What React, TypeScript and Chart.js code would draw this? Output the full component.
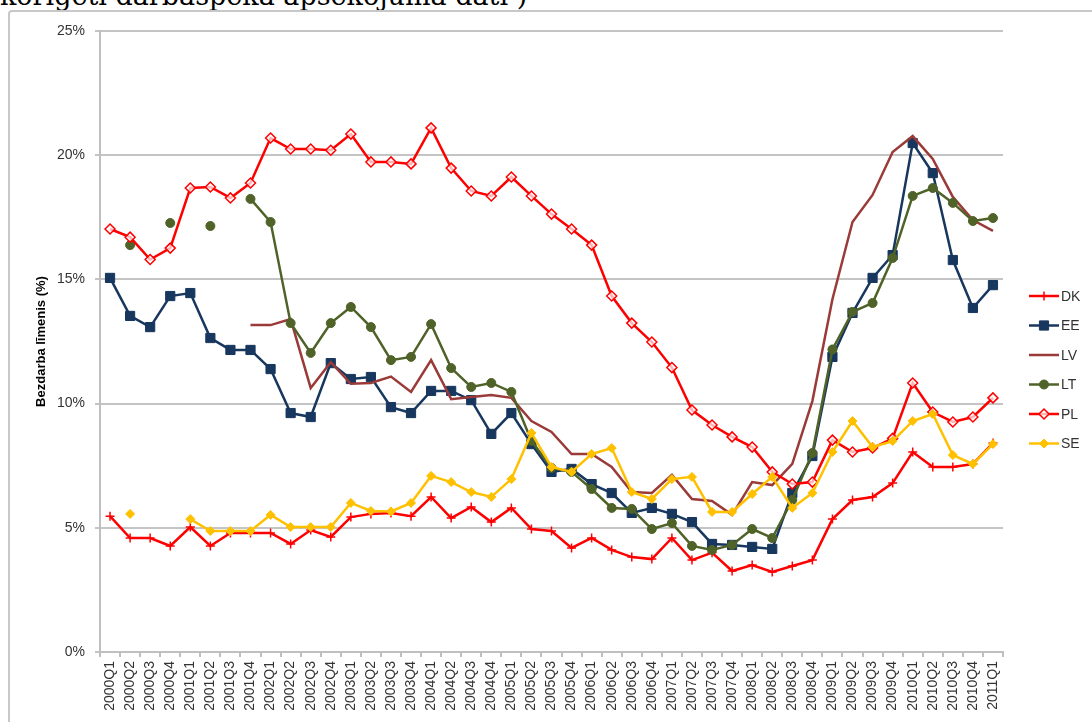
import React, { useEffect, useRef } from "react";
import { Chart, registerables } from "chart.js";

Chart.register(...registerables);

const quarters: string[] = [];
for (let y = 2000; y <= 2011; y++) {
  for (let q = 1; q <= 4; q++) {
    if (y === 2011 && q > 1) break;
    quarters.push(`${y}Q${q}`);
  }
}

const yTicks = [0, 5, 10, 15, 20, 25];

const DK = [5.47, 4.59, 4.59, 4.27, 5.03, 4.27, 4.79, 4.79, 4.79, 4.35, 4.91, 4.63, 5.43, 5.56, 5.6, 5.47, 6.24, 5.39, 5.84, 5.23, 5.8, 4.95, 4.87, 4.19, 4.59, 4.11, 3.82, 3.74, 4.59, 3.7, 4.0, 3.26, 3.5, 3.22, 3.46, 3.7, 5.35, 6.12, 6.24, 6.8, 8.05, 7.45, 7.45, 7.57, 8.41];
const EE = [15.06, 13.53, 13.08, 14.33, 14.45, 12.64, 12.16, 12.16, 11.39, 9.62, 9.46, 11.63, 10.99, 11.07, 9.86, 9.62, 10.51, 10.51, 10.14, 8.78, 9.62, 8.37, 7.25, 7.37, 6.76, 6.4, 5.6, 5.8, 5.56, 5.23, 4.35, 4.31, 4.23, 4.15, 6.4, 7.89, 11.88, 13.65, 15.06, 15.98, 20.49, 19.28, 15.78, 13.85, 14.77];
const LV = [null, null, null, null, null, null, null, 13.16, 13.16, 13.4, 10.63, 11.67, 10.8, 10.83, 11.09, 10.47, 11.75, 10.18, 10.27, 10.35, 10.23, 9.3, 8.86, 7.97, 7.97, 7.45, 6.44, 6.4, 7.13, 6.16, 6.08, 5.52, 6.84, 6.72, 7.57, 10.1, 14.2, 17.31, 18.4, 20.13, 20.77, 19.85, 18.32, 17.39, 16.95];
const LT = [null, 16.38, null, 17.27, null, 17.15, null, 18.24, 17.31, 13.24, 12.04, 13.24, 13.89, 13.08, 11.75, 11.88, 13.2, 11.43, 10.67, 10.83, 10.47, 8.5, 7.41, 7.25, 6.56, 5.8, 5.76, 4.95, 5.19, 4.27, 4.11, 4.31, 4.95, 4.59, 6.12, 8.01, 12.18, 13.69, 14.05, 15.86, 18.36, 18.68, 18.08, 17.35, 17.47];
const PL = [17.03, 16.7, 15.8, 16.26, 18.68, 18.72, 18.28, 18.88, 20.69, 20.25, 20.25, 20.2, 20.85, 19.73, 19.73, 19.65, 21.1, 19.48, 18.56, 18.36, 19.12, 18.36, 17.63, 17.03, 16.38, 14.33, 13.24, 12.48, 11.45, 9.74, 9.14, 8.66, 8.25, 7.25, 6.76, 6.84, 8.53, 8.05, 8.21, 8.6, 10.83, 9.66, 9.26, 9.46, 10.23];
const SE = [null, 5.56, null, null, 5.35, 4.87, 4.87, 4.87, 5.52, 5.03, 5.03, 5.03, 6.0, 5.68, 5.66, 6.0, 7.09, 6.84, 6.44, 6.24, 6.96, 8.82, 7.45, 7.25, 7.97, 8.21, 6.44, 6.16, 6.96, 7.05, 5.64, 5.64, 6.36, 7.05, 5.8, 6.4, 8.05, 9.3, 8.25, 8.49, 9.3, 9.58, 7.93, 7.57, 8.37];

type S = {
  label: string;
  data: (number | null)[];
  color: string;
  style: string | false;
  radius: number;
  fill: string;
  bw: number;
};

const seriesList: S[] = [
  { label: "DK", data: DK, color: "#ff0000", style: "cross", radius: 4.5, fill: "#ff4040", bw: 1.5 },
  { label: "EE", data: EE, color: "#17375e", style: "rect", radius: 6.5, fill: "#17375e", bw: 1 },
  { label: "LV", data: LV, color: "#9a3b39", style: false, radius: 0, fill: "#9a3b39", bw: 1 },
  { label: "LT", data: LT, color: "#4f6228", style: "circle", radius: 4.5, fill: "#4f6228", bw: 1 },
  { label: "PL", data: PL, color: "#ff0000", style: "rectRot", radius: 5, fill: "rgba(255,255,255,0.7)", bw: 1.5 },
  { label: "SE", data: SE, color: "#ffc000", style: "rectRot", radius: 4.5, fill: "#ffc000", bw: 1 },
];

function drawMarker(ctx: CanvasRenderingContext2D, s: S, x: number, y: number) {
  if (!s.style) return;
  const r = s.radius;
  ctx.save();
  ctx.fillStyle = s.fill;
  ctx.strokeStyle = s.color;
  ctx.lineWidth = s.bw;
  ctx.beginPath();
  if (s.style === "cross") {
    ctx.moveTo(x - r, y);
    ctx.lineTo(x + r, y);
    ctx.moveTo(x, y - r);
    ctx.lineTo(x, y + r);
    ctx.stroke();
  } else if (s.style === "rect") {
    const h = r * Math.SQRT1_2;
    ctx.rect(x - h, y - h, 2 * h, 2 * h);
    ctx.fill();
    ctx.stroke();
  } else if (s.style === "circle") {
    ctx.arc(x, y, r, 0, Math.PI * 2);
    ctx.fill();
    ctx.stroke();
  } else if (s.style === "rectRot") {
    ctx.moveTo(x, y - r);
    ctx.lineTo(x + r, y);
    ctx.lineTo(x, y + r);
    ctx.lineTo(x - r, y);
    ctx.closePath();
    ctx.fill();
    ctx.stroke();
  }
  ctx.restore();
}

const legendPlugin = {
  id: "excelLegend",
  afterDraw(chart: any) {
    const ctx: CanvasRenderingContext2D = chart.ctx;
    const x0 = 1029;
    const x1 = 1059;
    const y0 = 296;
    const dy = 29.5;
    seriesList.forEach((s, i) => {
      const y = y0 + i * dy;
      ctx.save();
      ctx.strokeStyle = s.color;
      ctx.lineWidth = 2.5;
      ctx.beginPath();
      ctx.moveTo(x0, y);
      ctx.lineTo(x1, y);
      ctx.stroke();
      ctx.restore();
      drawMarker(ctx, s, (x0 + x1) / 2, y);
      ctx.save();
      ctx.fillStyle = "#333333";
      ctx.font = "14px 'Liberation Sans', Arial, sans-serif";
      ctx.textBaseline = "middle";
      ctx.textAlign = "left";
      ctx.fillText(s.label, x1 + 2, y + 1);
      ctx.restore();
    });
  },
};

export default function App() {
  const ref = useRef<HTMLCanvasElement | null>(null);

  useEffect(() => {
    if (!ref.current) return;
    const order = [5, 4, 3, 2, 1, 0];
    const chart = new Chart(ref.current, {
      type: "line",
      data: {
        labels: quarters,
        datasets: seriesList.map((s, i) => ({
          label: s.label,
          data: s.data,
          borderColor: s.color,
          backgroundColor: s.fill,
          borderWidth: 2.5,
          pointStyle: (s.style || "circle") as any,
          pointRadius: s.radius,
          pointHoverRadius: s.radius,
          pointBorderColor: s.color,
          pointBackgroundColor: s.fill,
          pointBorderWidth: s.bw,
          spanGaps: false,
          tension: 0,
          order: order[i],
        })),
      },
      options: {
        animation: false,
        responsive: false,
        maintainAspectRatio: false,
        layout: { padding: { left: 0, top: 31, right: 89, bottom: 0 } },
        plugins: {
          legend: { display: false },
          tooltip: { enabled: false },
          title: { display: false },
        },
        scales: {
          x: {
            type: "category",
            offset: true,
            afterFit: (s: any) => {
              s.height = 70;
            },
            grid: {
              display: true,
              offset: true,
              drawOnChartArea: false,
              drawTicks: true,
              tickLength: 5,
              color: "#bfbfbf",
              lineWidth: 2,
            },
            border: { display: true, color: "#bfbfbf", width: 2 },
            ticks: {
              autoSkip: false,
              maxRotation: 90,
              minRotation: 90,
              padding: 4,
              color: "#333333",
              font: { family: "'Liberation Sans', Arial, sans-serif", size: 14 },
            },
          },
          y: {
            min: 0,
            max: 25,
            afterFit: (s: any) => {
              s.width = 100;
            },
            afterBuildTicks: (s: any) => {
              s.ticks = yTicks.map((v) => ({ value: v }));
            },
            grid: {
              color: "#c4c4c4",
              lineWidth: 2,
              drawTicks: true,
              tickLength: 5,
            },
            border: { display: true, color: "#bfbfbf", width: 2 },
            ticks: {
              stepSize: 5,
              padding: 10,
              color: "#333333",
              font: { family: "'Liberation Sans', Arial, sans-serif", size: 14 },
              callback: (v: any) => `${v}%`,
            },
            title: {
              display: true,
              text: "Bezdarba līmenis (%)",
              color: "#000000",
              font: { family: "'Liberation Sans', Arial, sans-serif", size: 13, weight: "bold" },
              padding: { top: 34, bottom: 0 },
            },
          },
        },
      },
      plugins: [legendPlugin],
    });
    return () => chart.destroy();
  }, []);

  return (
    <div
      style={{
        position: "fixed",
        left: 0,
        top: 0,
        width: 1092,
        height: 722,
        overflow: "hidden",
        background: "#ffffff",
      }}
    >
      <div
        style={{
          position: "absolute",
          left: 0,
          top: -18,
          fontFamily: "'DejaVu Serif', serif",
          fontSize: 27,
          lineHeight: "27px",
          whiteSpace: "nowrap",
          color: "#000",
        }}
      >
        koriģēti darbaspēka apsekojuma dati )
      </div>
      <div
        style={{
          position: "absolute",
          left: 8,
          top: 10,
          width: 1110,
          height: 740,
          border: "2px solid #c8c8c8",
          borderRadius: 4,
          boxSizing: "border-box",
        }}
      />
      <canvas
        ref={ref}
        width={1092}
        height={722}
        style={{ position: "absolute", left: 0, top: 0, width: 1092, height: 722 }}
      />
    </div>
  );
}
